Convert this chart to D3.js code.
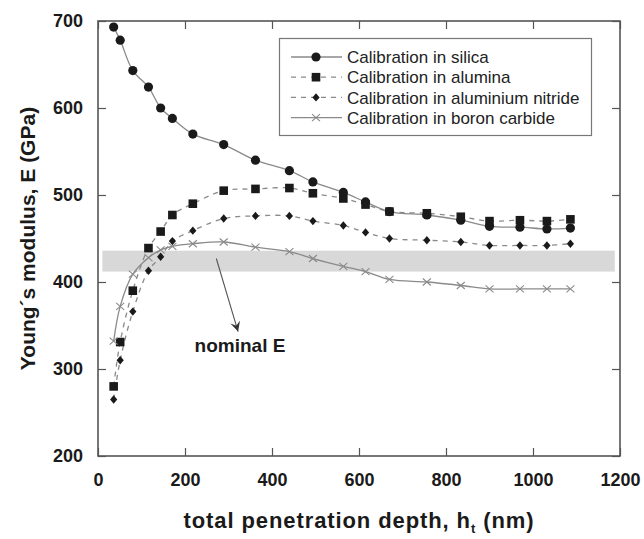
<!DOCTYPE html>
<html>
<head>
<meta charset="utf-8">
<script src="https://cdn.jsdelivr.net/npm/d3@7"></script>
<style>
  body { margin: 0; background: #fff; }
  svg { display: block; font-family: "Liberation Sans", Arial, sans-serif; }
</style>
</head>
<body>
<div id="chart"></div>
<script>
/* DATA */
const depth = [36, 51, 80, 116, 144, 171, 218, 289, 362, 440, 494, 564, 615, 670, 756, 834, 900, 970, 1032, 1086];
const silica = [693, 678, 643, 624, 600, 588, 570, 558, 540, 528, 515, 503, 492, 481, 477, 471, 464, 463, 461, 462];
const alumina = [280, 331, 390, 439, 458, 477, 490, 505, 507, 508, 502, 496, 489, 481, 479, 475, 470, 471, 470, 472];
const alNitride = [265, 310, 366, 413, 429, 447, 459, 473, 476, 476, 470, 465, 457, 450, 448, 446, 442, 442, 442, 444];
const boronCarbide = [332, 372, 409, 428, 437, 441, 444, 446, 440, 435, 427, 418, 412, 403, 400, 396, 392, 392, 392, 392];

const seriesNames = [
  "Calibration in silica",
  "Calibration in alumina",
  "Calibration in aluminium nitride",
  "Calibration in boron carbide"
];
const xTicks = [0, 200, 400, 600, 800, 1000, 1200];
const yTicks = [200, 300, 400, 500, 600, 700];

// nominal E band and its annotation
const bandE = [412, 436];
const bandDepth = [10, 1188];
const arrowFrom = [272, 427];
const arrowTo = [322, 343];
const nominalLabel = "nominal E";

/* LAYOUT */
const width = 644, height = 539;
const margin = { top: 21, right: 24, bottom: 83, left: 98 };

const svg = d3.select("#chart").append("svg")
  .attr("width", width)
  .attr("height", height);

const x = d3.scaleLinear().domain([0, 1200]).range([margin.left, width - margin.right]);
const y = d3.scaleLinear().domain([200, 700]).range([height - margin.bottom, margin.top]);

const ink = "#1a1a1a";
const lineGray = "#8a8a8a";

// gray band for nominal E
svg.append("rect")
  .attr("x", x(bandDepth[0]))
  .attr("y", y(bandE[1]))
  .attr("width", x(bandDepth[1]) - x(bandDepth[0]))
  .attr("height", y(bandE[0]) - y(bandE[1]))
  .attr("fill", "#d8d8d8");

// axes with inward ticks on all four sides
const axisStyle = g => {
  g.select(".domain").remove();
  g.selectAll(".tick line").attr("stroke", "#555").attr("stroke-width", 1.2);
  g.selectAll(".tick text")
    .attr("fill", ink)
    .attr("font-size", 18)
    .attr("font-weight", "bold");
};

svg.append("g")
  .attr("transform", `translate(0,${y(200)})`)
  .call(d3.axisBottom(x).tickValues(xTicks).tickSize(-8).tickPadding(17).tickFormat(d3.format("d")))
  .call(axisStyle);
svg.append("g")
  .attr("transform", `translate(0,${y(700)})`)
  .call(d3.axisTop(x).tickValues(xTicks).tickSize(-8).tickFormat(""))
  .call(axisStyle);
svg.append("g")
  .attr("transform", `translate(${x(0)},0)`)
  .call(d3.axisLeft(y).tickValues(yTicks).tickSize(-8).tickPadding(15).tickFormat(d3.format("d")))
  .call(axisStyle);
svg.append("g")
  .attr("transform", `translate(${x(1200)},0)`)
  .call(d3.axisRight(y).tickValues(yTicks).tickSize(-8).tickFormat(""))
  .call(axisStyle);

// frame
svg.append("rect")
  .attr("x", x(0))
  .attr("y", y(700))
  .attr("width", x(1200) - x(0))
  .attr("height", y(200) - y(700))
  .attr("fill", "none")
  .attr("stroke", "#555")
  .attr("stroke-width", 1.6);

// series lines
const series = [
  { name: seriesNames[0], values: silica, dash: null, marker: "circle" },
  { name: seriesNames[1], values: alumina, dash: "5,5", marker: "square" },
  { name: seriesNames[2], values: alNitride, dash: "5,5", marker: "diamond" },
  { name: seriesNames[3], values: boronCarbide, dash: null, marker: "cross" }
];

const line = d3.line()
  .x((d, i) => x(depth[i]))
  .y(d => y(d))
  .curve(d3.curveCatmullRom.alpha(0.5));

svg.append("g").selectAll("path")
  .data(series)
  .join("path")
  .attr("d", d => line(d.values))
  .attr("fill", "none")
  .attr("stroke", lineGray)
  .attr("stroke-width", 1.3)
  .attr("stroke-dasharray", d => d.dash);

// markers
function drawMarker(g, type) {
  if (type === "circle") {
    g.append("circle").attr("r", 4.6).attr("fill", ink);
  } else if (type === "square") {
    g.append("rect").attr("x", -4.3).attr("y", -4.3).attr("width", 8.6).attr("height", 8.6).attr("fill", ink);
  } else if (type === "diamond") {
    g.append("path").attr("d", "M0,-4.2L3.6,0L0,4.2L-3.6,0Z").attr("fill", ink);
  } else {
    g.append("path").attr("d", "M-4,-3.5L4,3.5M-4,3.5L4,-3.5")
      .attr("stroke", "#8a8a8a").attr("stroke-width", 1.1).attr("fill", "none");
  }
}

series.forEach(s => {
  svg.append("g").selectAll("g")
    .data(s.values)
    .join("g")
    .attr("transform", (d, i) => `translate(${x(depth[i])},${y(d)})`)
    .each(function() { drawMarker(d3.select(this), s.marker); });
});

// legend
const legend = svg.append("g");
legend.append("rect")
  .attr("x", 279.5).attr("y", 38.5)
  .attr("width", 312).attr("height", 97)
  .attr("fill", "#fff")
  .attr("stroke", "#777")
  .attr("stroke-width", 1.2);

const legendRows = legend.selectAll(".row")
  .data(series)
  .join("g")
  .attr("class", "row")
  .attr("transform", (d, i) => `translate(0,${57 + i * 20.2})`);

legendRows.append("line")
  .attr("x1", 291).attr("x2", 342)
  .attr("stroke", lineGray)
  .attr("stroke-width", 1.3)
  .attr("stroke-dasharray", d => d.dash);
legendRows.append("g")
  .attr("transform", "translate(316,0)")
  .each(function(d) { drawMarker(d3.select(this), d.marker); });
legendRows.append("text")
  .attr("x", 347)
  .attr("dy", "0.36em")
  .attr("font-size", 17)
  .attr("fill", "#222")
  .text(d => d.name);

// nominal E annotation
svg.append("defs").append("marker")
  .attr("id", "arrowhead")
  .attr("viewBox", "-10 -6 12 12")
  .attr("refX", 0).attr("refY", 0)
  .attr("markerWidth", 12).attr("markerHeight", 12)
  .attr("markerUnits", "userSpaceOnUse")
  .attr("orient", "auto")
  .append("path")
  .attr("d", "M-10,-5L0,0L-10,5L-6,0Z")
  .attr("fill", "#333");

svg.append("line")
  .attr("x1", x(arrowFrom[0])).attr("y1", y(arrowFrom[1]))
  .attr("x2", x(arrowTo[0])).attr("y2", y(arrowTo[1]))
  .attr("stroke", "#555")
  .attr("stroke-width", 1.1)
  .attr("marker-end", "url(#arrowhead)");

svg.append("text")
  .attr("x", 240).attr("y", 352)
  .attr("text-anchor", "middle")
  .attr("font-size", 19)
  .attr("font-weight", "bold")
  .attr("fill", ink)
  .text(nominalLabel);

// axis titles
const xTitle = svg.append("text")
  .attr("x", (x(0) + x(1200)) / 2)
  .attr("y", 528)
  .attr("text-anchor", "middle")
  .attr("font-size", 22)
  .attr("letter-spacing", 0.9)
  .attr("font-weight", "bold")
  .attr("fill", ink);
xTitle.append("tspan").text("total penetration depth, h");
xTitle.append("tspan").attr("font-size", 13).attr("dy", 5).text("t");
xTitle.append("tspan").attr("dy", -5).text(" (nm)");

svg.append("text")
  .attr("transform", `translate(35,${(y(200) + y(700)) / 2}) rotate(-90)`)
  .attr("text-anchor", "middle")
  .attr("font-size", 21)
  .attr("font-weight", "bold")
  .attr("fill", ink)
  .text("Young\u00B4s modulus, E (GPa)");
</script>
</body>
</html>
